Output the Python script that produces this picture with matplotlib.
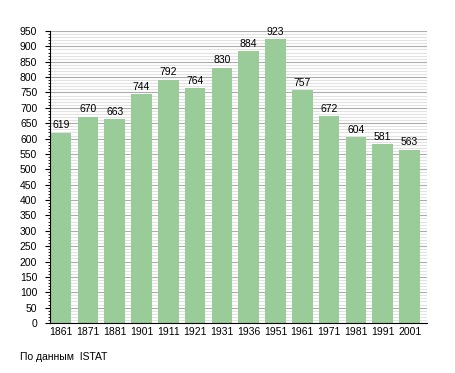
import matplotlib
matplotlib.use("Agg")
import matplotlib.pyplot as plt
from matplotlib.ticker import MultipleLocator

plt.rcParams["font.family"] = ["Liberation Sans", "DejaVu Sans"]
plt.rcParams["font.stretch"] = "normal"

years = ["1861", "1871", "1881", "1901", "1911", "1921", "1931", "1936",
         "1951", "1961", "1971", "1981", "1991", "2001"]
population = [619, 670, 663, 744, 792, 764, 830, 884, 923, 757, 672, 604, 581, 563]
source_note = "По данным  ISTAT"

fig = plt.figure(figsize=(4.55, 3.73), dpi=100)
ax = fig.add_axes([49.5/455, 1 - 323/373, (427-49.5)/455, (323-31)/373])

x = range(len(years))
ax.set_axisbelow(True)
ax.yaxis.set_major_locator(MultipleLocator(50))
ax.yaxis.set_minor_locator(MultipleLocator(10))
ax.grid(which="minor", axis="y", color="#e2e2e2", linewidth=0.8)
ax.grid(which="major", axis="y", color="#acacac", linewidth=0.8)
ax.bar(x, population, width=0.77, color="#99cc99")
for xi, v in zip(x, population):
    ax.text(xi, v + 15, str(v), ha="center", va="baseline", fontsize=7.5)

ax.set_xlim(-0.43, len(years) - 0.35)
ax.set_ylim(0, 950)
ax.set_xticks(list(x))
ax.set_xticklabels(years, fontsize=7.5)
ax.tick_params(axis="x", length=0, pad=3)
ax.tick_params(axis="y", which="major", labelsize=7.5, length=3.3, direction="out", width=0.8, pad=5.5)
ax.tick_params(axis="y", which="minor", length=1.6, direction="out", width=0.6)
for s in ["top", "right"]:
    ax.spines[s].set_visible(False)
ax.spines["left"].set_linewidth(0.8)
ax.spines["bottom"].set_linewidth(0.8)

fig.text(20/455, 1 - 357/373, source_note, fontsize=7.5, va="center", ha="left")
fig.savefig("out.png", dpi=100)
